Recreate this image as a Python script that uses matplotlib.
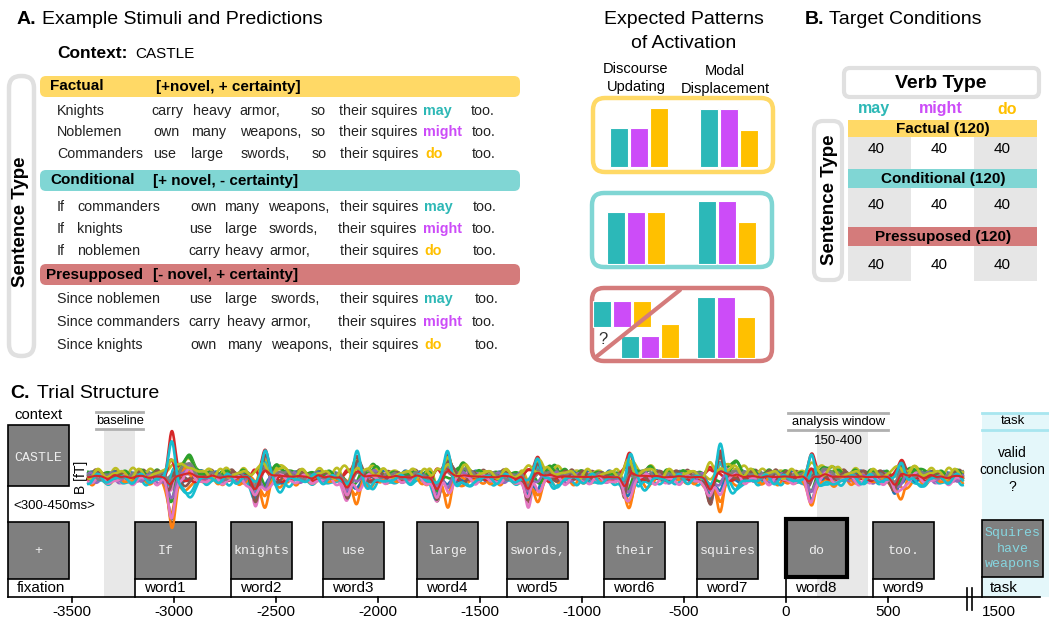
import numpy as np
import matplotlib.pyplot as plt
from matplotlib.patches import FancyBboxPatch, Rectangle

plt.rcParams['font.family'] = ['Liberation Sans', 'DejaVu Sans']

# ---------------- stimuli (panel A) ----------------
factual_rows = [
    ["Knights", "carry", "heavy", "armor,", "so", "their squires", "may", "too."],
    ["Noblemen", "own", "many", "weapons,", "so", "their squires", "might", "too."],
    ["Commanders", "use", "large", "swords,", "so", "their squires", "do", "too."],
]
conditional_rows = [
    ["If", "commanders", "own", "many", "weapons,", "their squires", "may", "too."],
    ["If", "knights", "use", "large", "swords,", "their squires", "might", "too."],
    ["If", "noblemen", "carry", "heavy", "armor,", "their squires", "do", "too."],
]
presupposed_rows = [
    ["Since noblemen", "use", "large", "swords,", "their squires", "may", "too."],
    ["Since commanders", "carry", "heavy", "armor,", "their squires", "might", "too."],
    ["Since knights", "own", "many", "weapons,", "their squires", "do", "too."],
]
group_names = ["Factual", "Conditional", "Presupposed"]
group_tags = ["[+novel, + certainty]", "[+ novel, - certainty]", "[- novel, + certainty]"]

verbs = ["may", "might", "do"]

# expected activation per verb (may, might, do), arbitrary units
du_factual = [39, 39, 59]
md_factual = [58, 58, 37]
du_conditional = [52, 52, 52]
md_conditional = [63, 63, 42]
du_presupposed = [22, 22, 34]
du_presupposed_alt = [26, 26, 26]
md_presupposed = [61, 61, 41]

# ---------------- target conditions (panel B) ----------------
table_rows = ["Factual", "Conditional", "Pressuposed"]
trial_counts = [[40, 40, 40], [40, 40, 40], [40, 40, 40]]

# ---------------- trial structure (panel C) ----------------
stim_labels = ["fixation", "word1", "word2", "word3", "word4", "word5",
               "word6", "word7", "word8", "word9"]
stim_words = ["+", "If", "knights", "use", "large", "swords,",
              "their", "squires", "do", "too."]
stim_onsets = [-3814, -3191, -2721, -2270, -1809, -1368, -892, -436, 0, 426]
stim_dur = 300
context_word = "CASTLE"
task_words = ["Squires", "have", "weapons"]
task_onset = 1500
baseline_win = (-150, 0)      # relative to word1
analysis_win = (150, 400)     # relative to word8
time_ticks = [-3500, -3000, -2500, -2000, -1500, -1000, -500, 0, 500]

# evoked field peaks per word (fT) and their latencies (ms)
pos_amp = [44, 30, 24, 27, 24, 27, 32, 24, 19]
pos_lat = [181, 167, 167, 152, 152, 127, 113, 127, 142]
neg_amp = [40, 30, 28, 31, 30, 27, 33, 21, 20]
neg_lat = [176, 118, 118, 98, 103, 103, 64, 118, 108]
late_amp = [22, 10, 8, 10, 7, 8, 13, 9, 7]

# sensor weights for each evoked component and ongoing activity
w_pos = [0.35, -0.55, 0.5, 0.85, 0.45, 0.75, 0.55, 0.3, 0.4, 0.7,
         -0.4, -0.9, -0.3, 0.2, -0.25, 0.6, -0.35, 0.15, 0.25, 1.0]
w_neg = [0.6, 0.3, 0.7, -0.2, 0.5, 1.0, 0.85, 0.4, 0.3, 0.55,
         0.65, 0.2, 0.45, -0.3, 0.35, 0.9, 0.6, 0.25, -0.2, 0.1]
w_late = [0.3, -0.4, 1.0, 0.2, 0.5, -0.3, 0.4, 0.2, 0.6, -0.5,
          -0.3, 0.3, 0.7, -0.2, 0.4, -0.4, 0.3, 0.5, 0.45, -0.85]
dc = [2, -3, 1, 0, -2, 3, -1, 2, 4, -4, 1, -2, 3, -1, 0, 2, -3, 1, 3, -2]
rip_amp = [3, 3.5, 3, 1.5, 3, 3, 3.5, 2.5, 3.5, 3, 3, 3.5, 3, 2, 3, 3, 3.5, 2.5, 3.5, 3.5]
rip_f1 = [9, 11, 8, 7, 10, 9, 12, 8, 11, 10, 8, 9, 12, 7, 10, 11, 9, 8, 10, 9.5]
rip_f2 = [17, 14, 19, 13, 16, 21, 15, 18, 13, 17, 20, 15, 14, 19, 18, 13, 16, 21, 15, 14]
rip_ph = [0.0, 1.1, 2.3, 0.7, 3.0, 4.2, 5.1, 1.9, 2.8, 0.4,
          3.6, 4.8, 1.4, 5.6, 2.1, 0.9, 3.3, 4.5, 5.9, 1.7]

# colours
YELLOW, TEAL, RED = "#ffd966", "#80d6d4", "#d47b7b"
group_colors = [YELLOW, TEAL, RED]
verb_colors = ["#2db8b6", "#cc4cf8", "#ffc000"]
BRACKET = "#e0e0e0"

W, H = 1049, 624
fig = plt.figure(figsize=(W / 100, H / 100), dpi=100)


def px_axes(x, y, w, h):
    return fig.add_axes([x / W, 1 - (y + h) / H, w / W, h / H])


ax = px_axes(0, 0, W, H)
ax.set_xlim(0, W)
ax.set_ylim(H, 0)
ax.axis("off")

# ---------------- panel A ----------------
ax.text(17, 19, "A.", fontsize=14, fontweight="bold", va="center")
ax.text(42, 19, "Example Stimuli and Predictions", fontsize=14, va="center")
ax.text(57, 53, "Context:", fontsize=12.5, fontweight="bold", va="center")
ax.text(135, 54, "CASTLE", fontsize=11, va="center")

ax.add_patch(FancyBboxPatch((9, 76), 25, 280, boxstyle="round,pad=0,rounding_size=12",
                            fc="none", ec=BRACKET, lw=3.2))
ax.text(21, 222, "Sentence Type", fontsize=13.5, fontweight="bold",
        rotation=90, ha="center", va="center")

band_top = [76, 170, 264]
band_name_x = [50, 50, 46]
band_tag_x = [156, 153, 153]
row_y = [[111, 132, 154], [207, 229, 251], [299, 322, 345]]
row_x = [
    [[57, 151, 193, 239, 311, 339, 423, 471],
     [57, 153, 191, 240, 311, 339, 423, 472],
     [57, 153, 191, 241, 312, 340, 425, 472]],
    [[57, 77, 190, 224, 268, 340, 424, 473],
     [57, 77, 189, 225, 269, 338, 423, 472],
     [57, 77, 188, 225, 269, 340, 424, 473]],
    [[57, 189, 225, 271, 340, 424, 475],
     [57, 188, 227, 270, 338, 423, 472],
     [57, 190, 227, 271, 340, 424, 475]],
]
for g, rows in enumerate([factual_rows, conditional_rows, presupposed_rows]):
    ax.add_patch(FancyBboxPatch((40, band_top[g]), 480, 21,
                                boxstyle="round,pad=0,rounding_size=6",
                                fc=group_colors[g], ec="none"))
    ax.text(band_name_x[g], band_top[g] + 10.5, group_names[g], fontsize=11,
            fontweight="bold", va="center")
    ax.text(band_tag_x[g], band_top[g] + 10.5, group_tags[g], fontsize=11,
            fontweight="bold", va="center")
    for r, words in enumerate(rows):
        for word, x in zip(words, row_x[g][r]):
            if word in verbs:
                ax.text(x, row_y[g][r], word, fontsize=10.3, fontweight="bold",
                        color=verb_colors[verbs.index(word)], va="center")
            else:
                ax.text(x, row_y[g][r], word, fontsize=10.3, va="center",
                        color="#222222")

# expected patterns
ax.text(684, 20, "Expected Patterns", fontsize=14, ha="center", va="center")
ax.text(684, 44, "of Activation", fontsize=14, ha="center", va="center")
ax.text(636, 69, "Discourse", fontsize=10.5, ha="center", va="center")
ax.text(636, 87, "Updating", fontsize=10.5, ha="center", va="center")
ax.text(725, 71, "Modal", fontsize=10.5, ha="center", va="center")
ax.text(725, 89, "Displacement", fontsize=10.5, ha="center", va="center")

pattern_boxes = [(593, 98, 180, 74, 5), (592, 193, 180, 74, 3), (592, 288, 180, 73, 3)]
for (bx, by, bw, bh, _), col in zip(pattern_boxes, group_colors):
    ax.add_patch(FancyBboxPatch((bx, by), bw, bh, boxstyle="round,pad=0,rounding_size=12",
                                fc="white", ec=col, lw=3.2))

# ---------------- panel B ----------------
ax.text(805, 19, "B.", fontsize=14, fontweight="bold", va="center")
ax.text(829, 19, "Target Conditions", fontsize=14, va="center")
ax.add_patch(FancyBboxPatch((844, 68), 195, 29, boxstyle="round,pad=0,rounding_size=6",
                            fc="white", ec=BRACKET, lw=3))
ax.text(941, 83, "Verb Type", fontsize=14, fontweight="bold", ha="center", va="center")

col_edges = [848, 911, 974, 1037]
col_mid = [(a + b) / 2 for a, b in zip(col_edges[:-1], col_edges[1:])]
for k in (0, 2):
    ax.add_patch(Rectangle((col_edges[k], 120), col_edges[k + 1] - col_edges[k], 161,
                           fc="#e6e6e6", ec="none"))
for k, v in enumerate(verbs):
    ax.text(col_mid[k] - 6 + 4 * k, 109, v, fontsize=11.5, fontweight="bold",
            color=verb_colors[k], ha="center", va="center")

tb_top = [120, 169, 227]
tb_h = [17, 19, 19]
num_y = [149, 205, 265]
for r, name in enumerate(table_rows):
    ax.add_patch(Rectangle((col_edges[0], tb_top[r]), col_edges[-1] - col_edges[0], tb_h[r],
                           fc=group_colors[r], ec="none"))
    ax.text(943, tb_top[r] + tb_h[r] / 2, f"{name} ({sum(trial_counts[r])})",
            fontsize=11, fontweight="bold", ha="center", va="center")
    for k, n in enumerate(trial_counts[r]):
        ax.text(col_mid[k] - 3, num_y[r], str(n), fontsize=11, ha="center", va="center")

ax.add_patch(FancyBboxPatch((814, 121), 28, 159, boxstyle="round,pad=0,rounding_size=9",
                            fc="none", ec=BRACKET, lw=3))
ax.text(829, 200, "Sentence Type", fontsize=13.5, fontweight="bold",
        rotation=90, ha="center", va="center")

# ---------------- activation bar insets ----------------
bar_colors = ["#2cb8b8", "#cc4cf8", "#ffc000"]


def draw_bars(axb, center, values, bottom=0):
    xs = [center - 20, center, center + 20]
    axb.bar(xs, values, width=18, bottom=bottom, color=bar_colors,
            edgecolor="white", linewidth=0.8)


insets = []
for bx, by, bw, bh, below in pattern_boxes:
    axb = px_axes(bx, by, bw, bh)
    axb.set_xlim(0, bw)
    axb.set_ylim(-below, bh - below)
    axb.axis("off")
    insets.append(axb)

draw_bars(insets[0], 46, du_factual)
draw_bars(insets[0], 136, md_factual)
draw_bars(insets[1], 44, du_conditional)
draw_bars(insets[1], 134.5, md_conditional)
draw_bars(insets[2], 30, du_presupposed_alt, bottom=31)
draw_bars(insets[2], 57.5, du_presupposed)
draw_bars(insets[2], 134, md_presupposed)
insets[2].plot([4, 88], [1, 68], color=RED, lw=3, solid_capstyle="round", clip_on=False)
insets[2].text(11, 19, "?", fontsize=12, ha="center", va="center", color="#333333")

# ---------------- panel C ----------------
ax.text(10, 393, "C.", fontsize=14, fontweight="bold", va="center")
ax.text(37, 393, "Trial Structure", fontsize=14, va="center")

px_per_ms = 0.204
x0_ms = (0 - 786) / px_per_ms
x1_ms = (W - 786) / px_per_ms
axc = px_axes(0, 380, W, 244)
axc.set_xlim(x0_ms, x1_ms)
axc.set_ylim(624, 380)
axc.axis("off")
ms = 1 / px_per_ms  # ms per pixel

# shaded windows
w1 = stim_onsets[1]
axc.add_patch(Rectangle((w1 + baseline_win[0], 430), baseline_win[1] - baseline_win[0], 167,
                        fc="#e8e8e8", ec="none", zorder=0))
axc.add_patch(Rectangle((analysis_win[0], 430), analysis_win[1] - analysis_win[0], 167,
                        fc="#e8e8e8", ec="none", zorder=0))
for yy in (412, 429):
    axc.plot([w1 - 190, w1 + 40], [yy, yy], color="#b0b0b0", lw=2)
    axc.plot([10, 500], [yy + 1, yy + 1], color="#b0b0b0", lw=2)
axc.text(w1 - 75, 420.5, "baseline", fontsize=9.3, ha="center", va="center")
axc.text(255, 421.5, "analysis window", fontsize=9.3, ha="center", va="center")
axc.text(255, 441, "150-400", fontsize=9.5, ha="center", va="center")

# task column (after the axis break)
t_disp = 961
axc.add_patch(Rectangle((t_disp, 413), 500, 184, fc="#e4f7fa", ec="none", zorder=0))
for yy in (413, 430):
    axc.plot([t_disp, t_disp + 500], [yy, yy], color="#a8e6ef", lw=2)
axc.text(t_disp + 150, 421.5, "task", fontsize=9.5, ha="center", va="center")
for k, s in enumerate(["valid", "conclusion", "?"]):
    axc.text(t_disp + 150, 453 + 17 * k, s, fontsize=10, ha="center", va="center")

# context + fixation column
fx = stim_onsets[0]
axc.add_patch(Rectangle((fx, 425), stim_dur, 61, fc="#7f7f7f", ec="black", lw=1.2))
axc.text(fx + stim_dur / 2, 458, context_word, fontsize=9.5, family="Liberation Mono",
         color="#eeeeee", ha="center", va="center")
axc.text(fx + stim_dur / 2, 415, "context", fontsize=10.7, ha="center", va="center")
axc.text(fx + 25, 506, "<300-450ms>", fontsize=9.5, va="center")
axc.plot([fx, fx], [486, 522], color="black", lw=1.2)

for k, (lab, word, on) in enumerate(zip(stim_labels, stim_words, stim_onsets)):
    thick = word == "do"
    top = 519 if thick else 522
    axc.add_patch(Rectangle((on, top), stim_dur, 58 if thick else 57, fc="#7f7f7f",
                            ec="black", lw=3 if thick else 1.2, zorder=2))
    axc.text(on + stim_dur / 2, 551, word, fontsize=9.5, family="Liberation Mono",
             color="#eeeeee", ha="center", va="center", zorder=3)
    axc.plot([on, on], [579, 597], color="black", lw=1.2)
    axc.text(on + 45, 588.5, lab, fontsize=11, va="center")

axc.add_patch(Rectangle((t_disp, 520), stim_dur, 57, fc="#7f7f7f", ec="black", lw=1.2, zorder=2))
for k, s in enumerate(task_words):
    axc.text(t_disp + stim_dur / 2, 533 + 15.5 * k, s, fontsize=9.5, family="Liberation Mono",
             color="#86d6e0", ha="center", va="center", zorder=3)
axc.plot([t_disp, t_disp], [577, 597], color="black", lw=1.2)
axc.text(t_disp + 40, 588.5, "task", fontsize=11, va="center")

# time axis with a break before the task
axc.plot([fx, x1_ms - 9 * ms], [597, 597], color="black", lw=1.2)
for t0 in time_ticks:
    axc.plot([t0, t0], [597, 602], color="black", lw=1.2)
    axc.text(t0, 612, f"{t0}", fontsize=11, ha="center", va="center")
axc.text(t_disp, 612, f"{task_onset}", fontsize=11, ha="left", va="center")
for bx in (887, 911):
    axc.plot([bx, bx], [588, 610], color="black", lw=1.2)

axc.text((81 - 786) * ms, 477, "B [fT]", fontsize=10, rotation=90, ha="center", va="center")

# ---------------- MEG butterfly plot ----------------
wax = px_axes(0, 417, W, 120)
wax.set_xlim(x0_ms, x1_ms)
wax.set_ylim(-60, 60)
wax.axis("off")

t = np.arange(-3420, 868, 2.0)


def bump(center, width):
    return np.exp(-0.5 * ((t - center) / width) ** 2)


word_onsets = stim_onsets[1:]
palette = plt.rcParams["axes.prop_cycle"].by_key()["color"]
traces = []
for c in range(len(w_pos)):
    y = dc[c] + rip_amp[c] * np.sin(2 * np.pi * rip_f1[c] * t / 1000 + rip_ph[c]) \
        + 0.5 * rip_amp[c] * np.sin(2 * np.pi * rip_f2[c] * t / 1000 + 2 * rip_ph[c])
    for k, on in enumerate(word_onsets):
        y = y + pos_amp[k] * w_pos[c] * bump(on + pos_lat[k], 16)
        y = y - neg_amp[k] * w_neg[c] * bump(on + neg_lat[k], 16)
        y = y + late_amp[k] * w_late[c] * bump(on + pos_lat[k] + 75, 28)
    traces.append(y)
    wax.plot(t, y, color=palette[c % 10], lw=1.9)
wax.plot(t, np.mean(traces, axis=0), color="#d62728", lw=1.5)

fig.savefig("out.png", dpi=100)
